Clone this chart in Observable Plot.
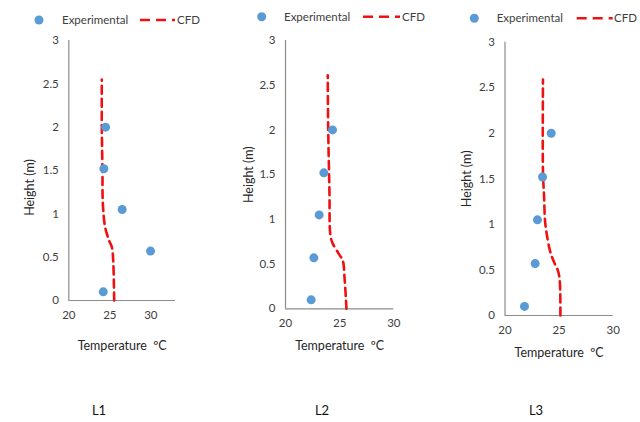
<!DOCTYPE html>
<html><head><meta charset="utf-8">
<script src="https://cdn.jsdelivr.net/npm/d3@7"></script>
<script src="https://cdn.jsdelivr.net/npm/@observablehq/plot@0.6"></script>
<style>
body{margin:0;background:#fff;font-family:Lato,"Open Sans",sans-serif}
#wrap{position:relative;width:640px;height:422px;overflow:hidden;background:#fff}
.panel{position:absolute;top:0}
.abs{position:absolute;white-space:nowrap;line-height:1}
.cap{font-size:13px;color:#111}
</style></head><body><div id="wrap"></div>
<script>
// Experimental heights (m)
const expHeights = [0.1, 0.57, 1.05, 1.52, 2.0];
// Experimental temperatures (°C)
const expL1 = [24.2, 29.96, 26.5, 24.27, 24.48];
const expL2 = [22.37, 22.62, 23.11, 23.54, 24.34];
const expL3 = [21.8, 22.79, 23.0, 23.47, 24.27];
// CFD profiles
const cfdL1Height = [0, 0.46, 0.615, 0.69, 0.845, 1.115, 1.5, 2.0, 2.55];
const cfdL1Temp   = [25.53, 25.41, 25.25, 24.92, 24.43, 24.15, 24.1, 24.02, 24.02];
const cfdL2Height = [0, 0.35, 0.54, 0.615, 0.745, 0.84, 1.29, 2.03, 2.61];
const cfdL2Temp   = [25.63, 25.45, 25.29, 24.92, 24.31, 24.13, 24.06, 23.94, 23.9];
const cfdL3Height = [0, 0.38, 0.49, 0.6, 0.71, 0.9, 1.04, 1.34, 1.555, 2.59];
const cfdL3Temp   = [25.12, 25.06, 24.9, 24.48, 24.16, 23.85, 23.7, 23.6, 23.51, 23.51];
// Axis ticks and labels
const yTicks = [0, 0.5, 1, 1.5, 2, 2.5, 3];
const xTicks = [20, 25, 30];
const panelNames = ["L1", "L2", "L3"];
const legendLabels = ["Experimental", "CFD"];
const xTitle = "Temperature  \u00BAC";
const yTitle = "Height (m)";

const wrap = document.getElementById("wrap");
const FONT = "Lato, 'Open Sans', sans-serif";

const panels = [
  {left:0,   w:220, ml:68.3, mr:45,   mt:40,   mb:60,   xd:[20,33], exp:expL1, ch:cfdL1Height, ct:cfdL1Temp,
   xt:45, yt:39, ytdy:17, leg:{mx:39, my:20, tx:62, d0:140, d1:175, cx:177}, cap:{x:99,y:411}},
  {left:220, w:210, ml:65,   mr:36.7, mt:40,   mb:51.7, xd:[20,30], exp:expL2, ch:cfdL2Height, ct:cfdL2Temp,
   xt:37, yt:37, ytdy:0, leg:{mx:41.7, my:16.7, tx:64, d0:143, d1:180, cx:182}, cap:{x:102,y:411}},
  {left:430, w:210, ml:74.5, mr:27.3, mt:41.7, mb:45,   xd:[20,30], exp:expL3, ch:cfdL3Height, ct:cfdL3Temp,
   xt:37, yt:38.5, ytdy:0, leg:{mx:44.3, my:18.3, tx:66.7, d0:146.7, d1:182.7, cx:184}, cap:{x:106,y:411}}
];

panels.forEach((p, i) => {
  const exp = expHeights.map((h, k) => ({t: p.exp[k], h}));
  const cfd = p.ch.map((h, k) => ({t: p.ct[k], h}));
  const chart = Plot.plot({
    width: p.w, height: 360,
    marginLeft: p.ml, marginRight: p.mr, marginTop: p.mt, marginBottom: p.mb,
    x: {domain: p.xd},
    y: {domain: [0, 3]},
    style: {fontFamily: FONT, fontSize: "11.5px", color: "#404040", background: "white"},
    marks: [
      Plot.axisX({ticks: xTicks, tickSize: 0, tickPadding: 10, label: null, fill: "#404040"}),
      Plot.axisY({ticks: yTicks, tickSize: 0, tickPadding: 10, tickFormat: d => String(d), label: null, fill: "#404040"}),
      Plot.ruleY([0], {stroke: "#8c8c8c", strokeWidth: 1.2}),
      Plot.ruleX([p.xd[0]], {stroke: "#8c8c8c", strokeWidth: 1.2}),
      Plot.line(cfd, {x: "t", y: "h", stroke: "#ee1111", strokeWidth: 2.6, strokeDasharray: "8,5", curve: "catmull-rom"}),
      Plot.dot(exp, {x: "t", y: "h", r: 4.5, fill: "#5b9bd5", stroke: "none"}),
      Plot.text([xTitle], {frameAnchor: "bottom", dy: p.xt, textAnchor: "middle", lineAnchor: "middle", fontSize: 12.5, fill: "#262626"}),
      Plot.text([yTitle], {frameAnchor: "left", dx: -p.yt, dy: p.ytdy, rotate: -90, textAnchor: "middle", lineAnchor: "middle", fontSize: 12.5, fill: "#262626"})
    ]
  });
  chart.classList.add("panel");
  chart.style.left = p.left + "px";
  wrap.appendChild(chart);

  // legend
  const L = p.leg;
  const lg = document.createElementNS("http://www.w3.org/2000/svg", "svg");
  lg.setAttribute("width", p.w); lg.setAttribute("height", 34);
  lg.style.position = "absolute"; lg.style.left = p.left + "px"; lg.style.top = "0px";
  lg.innerHTML = `<circle cx="${L.mx}" cy="${L.my}" r="4.5" fill="#5b9bd5"/>
    <line x1="${L.d0}" x2="${L.d1}" y1="${L.my}" y2="${L.my}" stroke="#ee1111" stroke-width="2.6" stroke-dasharray="10,6"/>
    <text x="${L.tx}" y="${L.my}" dy="0.35em" font-family="${FONT}" font-size="11.5" fill="#404040">${legendLabels[0]}</text>
    <text x="${L.cx}" y="${L.my}" dy="0.35em" font-family="${FONT}" font-size="11.5" fill="#404040">${legendLabels[1]}</text>`;
  wrap.appendChild(lg);

  const cap = document.createElement("div");
  cap.className = "abs cap";
  cap.textContent = panelNames[i];
  cap.style.left = (p.left + p.cap.x) + "px";
  cap.style.top = (p.cap.y - 7) + "px";
  cap.style.transform = "translateX(-50%)";
  wrap.appendChild(cap);
});
</script>
</body></html>
